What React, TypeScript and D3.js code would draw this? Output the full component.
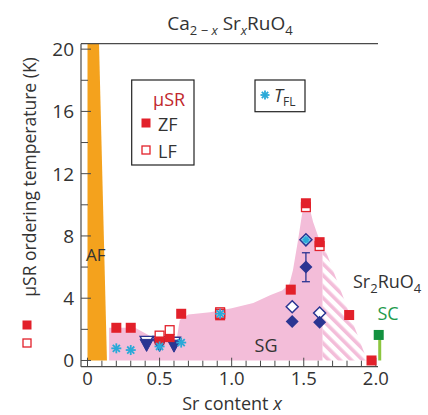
import React from "react";
import * as d3 from "d3";

// ZF muSR ordering temperatures (filled red squares)
const zfX = [0.2, 0.3, 0.5, 0.57, 0.65, 0.92, 1.41, 1.515, 1.61, 1.815, 1.97];
const zfT = [2.1, 2.1, 1.35, 1.5, 3.0, 2.9, 4.55, 10.1, 7.6, 2.92, 0.0];
// LF (open red squares)
const lfX = [0.5, 0.57, 0.92, 1.515, 1.61];
const lfT = [1.6, 1.95, 3.1, 9.85, 7.35];
// T_FL (cyan asterisks)
const tflX = [0.2, 0.3, 0.5, 0.65, 0.92, 1.515];
const tflT = [0.78, 0.67, 0.9, 1.15, 3.0, 7.75];
// blue down-triangles
const triX = [0.41, 0.5, 0.6];
const triT = [1.0, 1.0, 0.95];
// blue diamonds
const dFillX = [1.42, 1.515, 1.61];
const dFillT = [2.5, 6.0, 2.45];
const dOpenX = [1.42, 1.515, 1.61];
const dOpenT = [3.45, 7.75, 3.05];
const errLo = [null, 5.06, null];
const errHi = [null, 6.92, null];
// Sr2RuO4 superconducting point
const scX = 2.02;
const scT = 1.64;

// phase regions
const afX = [0.0, 0.08, 0.135, 0.0];
const afT = [20.35, 20.35, 0, 0];
const sgX = [0.15, 0.15, 0.33, 0.47, 0.62, 0.64, 0.7, 0.85, 1.0, 1.15, 1.27, 1.35, 1.4, 1.425, 1.46, 1.49, 1.51, 1.53, 1.565, 1.61, 1.63, 1.63];
const sgT = [0, 2.1, 2.1, 1.4, 1.45, 2.6, 2.95, 3.1, 3.35, 3.7, 4.2, 4.5, 4.9, 5.8, 7.7, 9.5, 10.4, 10.2, 8.9, 7.7, 7.6, 0];
const hatchX = [1.63, 1.94, 1.63];
const hatchT = [7.6, 0, 0];

const xMajor = [0, 0.5, 1.0, 1.5, 2.0];
const xLabels = ["0", "0.5", "1.0", "1.5", "2.0"];
const yMajor = [0, 4, 8, 12, 16, 20];

const W = 428;
const H = 415;
const FONT = "'Open Sans', sans-serif";
const RED = "#e2202a";
const NAVY = "#2a3592";
const CYAN = "#2aa9d8";
const PINK = "#f3bdd9";
const ORANGE = "#f4a21d";
const AXIS = "#4a4a4a";
const TXT = "#333";

const x = d3.scaleLinear().domain([-0.045, 2.015]).range([81, 378]);
const y = d3.scaleLinear().domain([-0.4, 20.35]).range([366.7, 43.7]);

const poly = (xs: number[], ts: number[]) =>
  (d3.line<number>().x((_, i) => x(xs[i])).y((_, i) => y(ts[i]))(xs.map((_, i) => i)) || "") + "Z";

const Asterisk = ({ cx, cy, r = 5 }: { cx: number; cy: number; r?: number }) => (
  <g stroke={CYAN} strokeWidth={1.8}>
    {[0, 45, 90, 135].map(a => {
      const rad = (a * Math.PI) / 180;
      return <line key={a} x1={cx - r * Math.cos(rad)} y1={cy - r * Math.sin(rad)} x2={cx + r * Math.cos(rad)} y2={cy + r * Math.sin(rad)} />;
    })}
  </g>
);

const sq = 10;
const diamond = (cx: number, cy: number, r: number) => `M${cx},${cy - r}L${cx + r},${cy}L${cx},${cy + r}L${cx - r},${cy}Z`;
const tri = (cx: number, cy: number) => `M${cx - 6.5},${cy - 5.5}L${cx + 6.5},${cy - 5.5}L${cx},${cy + 6.5}Z`;

export default function App() {
  const xTicks = d3.range(0, 21).map(i => i / 10);
  const yTicks = d3.range(0, 11).map(i => i * 2);
  return (
    <svg width={W} height={H} style={{ position: "absolute", left: 0, top: 0, background: "white" }} fontFamily={FONT}>
      <defs>
        <pattern id="hatch" width="8" height="8" patternUnits="userSpaceOnUse" patternTransform="rotate(-45)">
          <rect x="0" y="0" width="3.6" height="8" fill={PINK} />
        </pattern>
        <clipPath id="plot">
          <rect x={81} y={43.7} width={297} height={323} />
        </clipPath>
      </defs>

      {/* title */}
      <text x={230} y={30} textAnchor="middle" fontSize={19} fill={TXT}>
        Ca<tspan fontSize={13} dy={5}>2 − <tspan fontStyle="italic">x</tspan></tspan>
        <tspan dy={-5}> Sr</tspan>
        <tspan fontSize={13} dy={5} fontStyle="italic">x</tspan>
        <tspan dy={-5}>RuO</tspan>
        <tspan fontSize={13} dy={5}>4</tspan>
      </text>

      {/* regions */}
      <g clipPath="url(#plot)">
        <path d={poly(afX, afT)} fill={ORANGE} />
        <path d={poly(sgX, sgT)} fill={PINK} />
        <path d={poly(hatchX, hatchT)} fill="url(#hatch)" />
      </g>

      {/* axes frame */}
      <line x1={81} x2={378} y1={43.7} y2={43.7} stroke={AXIS} strokeWidth={1.2} />
      <line x1={81} x2={81} y1={43.7} y2={366.7} stroke={AXIS} strokeWidth={1.2} />
      <line x1={81} x2={378} y1={366.7} y2={366.7} stroke={AXIS} strokeWidth={1.2} />
      {xTicks.map(t => {
        const major = xMajor.some(m => Math.abs(m - t) < 1e-6);
        return <line key={t} x1={x(t)} x2={x(t)} y1={366.7} y2={366.7 - (major ? 9 : 6)} stroke={AXIS} strokeWidth={1} />;
      })}
      {yTicks.map(t => {
        const major = yMajor.includes(t);
        return <line key={t} x1={81} x2={81 + (major ? 10 : 7)} y1={y(t)} y2={y(t)} stroke={AXIS} strokeWidth={1} />;
      })}
      {xMajor.map((t, i) => (
        <text key={t} x={x(t)} y={385} textAnchor="middle" fontSize={18.5} fill={TXT}>{xLabels[i]}</text>
      ))}
      {yMajor.map(t => (
        <text key={t} x={74} y={y(t)} dy="0.36em" textAnchor="end" fontSize={19} fill={TXT}>{t}</text>
      ))}
      <text x={232} y={410} textAnchor="middle" fontSize={18} fill={TXT}>
        Sr content <tspan fontStyle="italic">x</tspan>
      </text>
      <text transform="translate(36,177) rotate(-90)" textAnchor="middle" fontSize={17.5} fill={TXT}>μSR ordering temperature (K)</text>
      <rect x={22.5} y={320.5} width={9} height={9} fill={RED} />
      <rect x={23} y={339} width={8} height={8} fill="white" stroke={RED} strokeWidth={1.3} />

      {/* region labels */}
      <text x={86} y={261} fontSize={17} fill={TXT}>AF</text>
      <text x={266} y={352} textAnchor="middle" fontSize={18} fill={TXT}>SG</text>
      <text x={353} y={288} fontSize={18} fill={TXT}>
        Sr<tspan fontSize={13} dy={5}>2</tspan><tspan dy={-5}>RuO</tspan><tspan fontSize={13} dy={5}>4</tspan>
      </text>
      <text x={388} y={320} textAnchor="middle" fontSize={18} fill="#1e9a4c">SC</text>

      {/* triangles */}
      {triX.map((v, i) => (
        <g key={i}>
          <path d={tri(x(v), y(triT[i]) - 3)} fill="white" stroke={NAVY} strokeWidth={1.4} />
          <path d={tri(x(v), y(triT[i]))} fill={NAVY} stroke={NAVY} strokeWidth={1} />
        </g>
      ))}

      {/* LF then ZF squares */}
      {lfX.map((v, i) => (
        <rect key={i} x={x(v) - sq / 2 + 0.6} y={y(lfT[i]) - sq / 2 + 0.6} width={sq - 1.2} height={sq - 1.2} fill="white" stroke={RED} strokeWidth={1.3} />
      ))}
      {zfX.map((v, i) => {
        if (lfX.includes(v) && v < 1.0) {
          return <rect key={i} x={x(v) - sq / 2} y={y(zfT[i]) - sq / 2 + 2} width={sq} height={sq - 2} fill={RED} />;
        }
        if (v === 0.92) return null;
        return <rect key={i} x={x(v) - sq / 2} y={y(zfT[i]) - sq / 2} width={sq} height={sq} fill={RED} />;
      })}
      {lfX.filter(v => v === 0.92).map(v => (
        <rect key="p" x={x(v) - sq / 2 + 0.6} y={y(3.0) - sq / 2 + 0.6} width={sq - 1.2} height={sq - 1.2} fill="#f7d3e4" stroke={RED} strokeWidth={1.6} />
      ))}

      {/* diamonds */}
      {dOpenX.map((v, i) => (
        <path key={"o" + i} d={diamond(x(v), y(dOpenT[i]), 6)} fill={v === 1.515 ? "#9ad6ef" : "white"} stroke={NAVY} strokeWidth={1.5} />
      ))}
      {dFillX.map((v, i) => (
        <g key={"f" + i}>
          {errLo[i] != null && (
            <g stroke={NAVY} strokeWidth={1.3}>
              <line x1={x(v)} x2={x(v)} y1={y(errLo[i] as number)} y2={y(errHi[i] as number)} />
              <line x1={x(v) - 4} x2={x(v) + 4} y1={y(errLo[i] as number)} y2={y(errLo[i] as number)} />
              <line x1={x(v) - 4} x2={x(v) + 4} y1={y(errHi[i] as number)} y2={y(errHi[i] as number)} />
            </g>
          )}
          <path d={diamond(x(v), y(dFillT[i]), 6.5)} fill={NAVY} />
        </g>
      ))}

      {/* T_FL */}
      {tflX.map((v, i) => (
        <Asterisk key={i} cx={x(v)} cy={y(tflT[i])} r={v === 1.515 ? 3.5 : 5} />
      ))}

      {/* SC */}
      <line x1={x(scX) + 1} x2={x(scX) + 1} y1={y(0)} y2={y(scT)} stroke="#8cc63f" strokeWidth={3} />
      <rect x={x(scX) - 5} y={y(scT) - 5} width={10} height={10} fill="#12913f" />

      {/* legends */}
      <rect x={131.7} y={80} width={62.3} height={85} fill="white" stroke="#222" strokeWidth={1.2} />
      <text x={153} y={106} fontSize={18} fill="#c1272d">μSR</text>
      <rect x={141.5} y={118.5} width={9} height={9} fill={RED} />
      <text x={158} y={131} fontSize={18} fill={TXT}>ZF</text>
      <rect x={142} y={146} width={8} height={8} fill="white" stroke={RED} strokeWidth={1.3} />
      <text x={158} y={158} fontSize={18} fill={TXT}>LF</text>

      <rect x={255} y={80} width={50} height={31.7} fill="white" stroke="#222" strokeWidth={1.2} />
      <Asterisk cx={265} cy={95} r={4.5} />
      <text x={274} y={102} fontSize={18} fill={TXT} fontStyle="italic">T<tspan fontSize={12} fontStyle="normal" dy={4}>FL</tspan></text>
    </svg>
  );
}
